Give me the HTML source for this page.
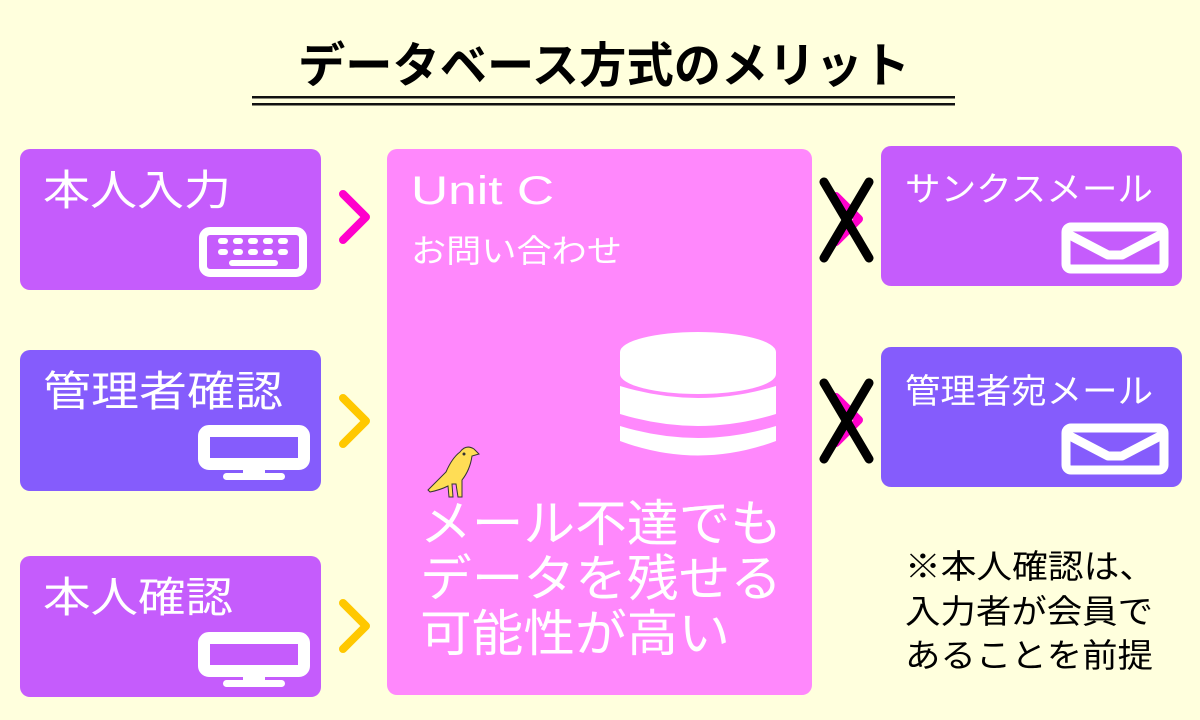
<!DOCTYPE html>
<html><head><meta charset="utf-8"><style>
html,body{margin:0;padding:0;background:#ffffdd;}
svg{display:block;}
text{font-family:"Liberation Sans","Noto Sans CJK JP",sans-serif;}
</style></head><body>
<svg width="1200" height="720" viewBox="0 0 1200 720" xmlns="http://www.w3.org/2000/svg">
<rect width="1200" height="720" fill="#ffffdd"/>
<text x="604" y="82" text-anchor="middle" font-size="48" font-weight="bold" fill="#000" textLength="612" lengthAdjust="spacingAndGlyphs">データベース方式のメリット</text>
<rect x="252" y="96" width="703" height="2.5" fill="#111"/>
<rect x="252" y="103" width="703" height="2.5" fill="#111"/>

<!-- left boxes -->
<rect x="20" y="149" width="301" height="141" rx="10" fill="#c55cfc"/>
<rect x="20" y="350" width="301" height="141" rx="10" fill="#855cfc"/>
<rect x="20" y="556" width="301" height="141" rx="10" fill="#c55cfc"/>
<g fill="#fff">
<text x="43" y="205" font-size="42" textLength="188" lengthAdjust="spacingAndGlyphs">本人入力</text>
<text x="43" y="406" font-size="42" textLength="240" lengthAdjust="spacingAndGlyphs">管理者確認</text>
<text x="43" y="612" font-size="42" textLength="190" lengthAdjust="spacingAndGlyphs">本人確認</text>
</g>
<!-- keyboard -->
<rect x="203" y="231" width="100" height="42" rx="7" fill="none" stroke="#fff" stroke-width="8"/>
<g fill="#fff">
<rect x="218" y="238" width="10" height="6" rx="3"/><rect x="233" y="238" width="10" height="6" rx="3"/><rect x="248" y="238" width="10" height="6" rx="3"/><rect x="263" y="238" width="10" height="6" rx="3"/><rect x="278" y="238" width="10" height="6" rx="3"/>
<rect x="218" y="249" width="10" height="6" rx="3"/><rect x="233" y="249" width="10" height="6" rx="3"/><rect x="248" y="249" width="10" height="6" rx="3"/><rect x="263" y="249" width="10" height="6" rx="3"/><rect x="278" y="249" width="10" height="6" rx="3"/>
<rect x="229" y="260" width="49" height="6" rx="3"/>
</g>
<!-- monitors -->
<g id="mon">
<rect x="204" y="431" width="100" height="33" rx="5" fill="none" stroke="#fff" stroke-width="12"/>
<rect x="243" y="468" width="22" height="8" fill="#fff"/>
<rect x="223" y="473" width="62" height="7" rx="3.5" fill="#fff"/>
</g>
<use href="#mon" y="207"/>

<!-- chevrons -->
<g fill="none" stroke-width="8" stroke-linecap="round" stroke-linejoin="round">
<polyline points="343,194 366,217 343,240" stroke="#ff00cc"/>
<polyline points="343,398 366,421 343,444" stroke="#ffc800"/>
<polyline points="343,603 366,626 343,649" stroke="#ffc800"/>
<polyline points="836,196 859,219 836,242" stroke="#ff00cc"/>
<polyline points="836,397 859,420 836,443" stroke="#ff00cc"/>
</g>
<g stroke="#000" stroke-width="9" stroke-linecap="round">
<line x1="824" y1="182" x2="869" y2="258"/><line x1="869" y1="182" x2="824" y2="258"/>
<line x1="824" y1="383" x2="869" y2="459"/><line x1="869" y1="383" x2="824" y2="459"/>
</g>

<!-- center -->
<rect x="387" y="149" width="425" height="546" rx="10" fill="#ff88fc"/>
<g fill="#fff">
<text x="411" y="204" font-size="40" textLength="143" lengthAdjust="spacingAndGlyphs">Unit C</text>
<text x="411" y="262" font-size="32" textLength="211" lengthAdjust="spacingAndGlyphs">お問い合わせ</text>
<text x="420" y="541" font-size="50" textLength="362" lengthAdjust="spacingAndGlyphs">メール不達でも</text>
<text x="420" y="596" font-size="50" textLength="362" lengthAdjust="spacingAndGlyphs">データを残せる</text>
<text x="420" y="651" font-size="50" textLength="310" lengthAdjust="spacingAndGlyphs">可能性が高い</text>
</g>
<!-- database -->
<g fill="#fff">
<ellipse cx="698" cy="352" rx="78" ry="20"/>
<rect x="620" y="352" width="156" height="22"/>
<ellipse cx="698" cy="374" rx="78" ry="20"/>
<path d="M620 386 Q698 410 776 386 L776 414 Q698 438 620 414 Z"/>
<path d="M620 426 Q698 450 776 426 L776 441 Q698 470 620 441 Z"/>
</g>
<!-- bird -->
<path d="M428 490 L446 472 Q452 458 460 452 Q466 444 474 449 L479 454 L472 456 Q470 470 462 480 L462 497 L458 497 L456 484 L452 484 L453 497 L449 497 L448 486 Q440 490 430 492 Z" fill="#ffdd55" stroke="#333" stroke-width="1"/>
<circle cx="464" cy="454" r="1.5" fill="#333"/>

<!-- right boxes -->
<rect x="881" y="146" width="301" height="140" rx="10" fill="#c55cfc"/>
<rect x="881" y="347" width="301" height="140" rx="10" fill="#855cfc"/>
<g fill="#fff">
<text x="905" y="201" font-size="34" textLength="248" lengthAdjust="spacingAndGlyphs">サンクスメール</text>
<text x="905" y="403" font-size="34" textLength="248" lengthAdjust="spacingAndGlyphs">管理者宛メール</text>
</g>
<g fill="none" stroke="#fff" stroke-width="9" stroke-linejoin="round">
<rect x="1066" y="227" width="98" height="42" rx="5"/>
<polyline points="1066,233 1108,255 1122,255 1164,233"/>
<rect x="1066" y="428" width="98" height="42" rx="5"/>
<polyline points="1066,434 1108,456 1122,456 1164,434"/>
</g>

<!-- note -->
<g fill="#000" font-size="33">
<text x="905" y="578" textLength="250" lengthAdjust="spacingAndGlyphs">※本人確認は、</text>
<text x="905" y="623" textLength="248" lengthAdjust="spacingAndGlyphs">入力者が会員で</text>
<text x="905" y="667" textLength="248" lengthAdjust="spacingAndGlyphs">あることを前提</text>
</g>
</svg>
</body></html>
